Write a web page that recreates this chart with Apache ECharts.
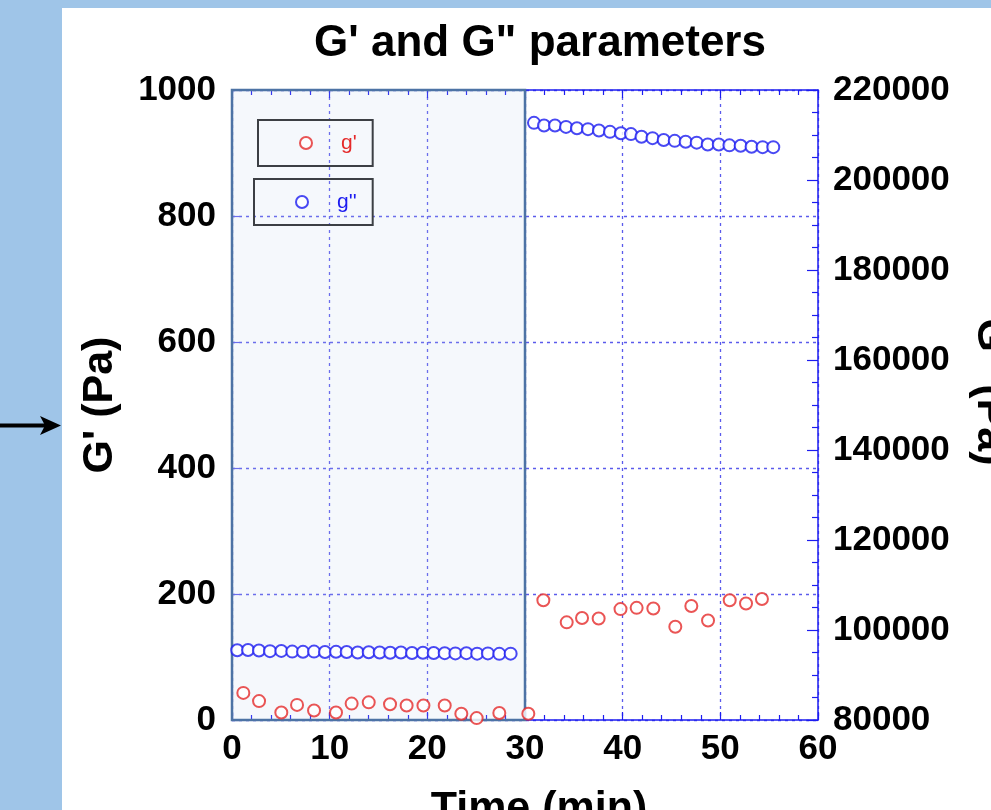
<!DOCTYPE html>
<html>
<head>
<meta charset="utf-8">
<script src="https://cdn.jsdelivr.net/npm/echarts@6/dist/echarts.min.js"></script>
<style>
html,body{margin:0;padding:0;background:#9fc5e8;}
#chart{width:991px;height:810px;}
</style>
</head>
<body>
<div id="chart"></div>
<script>
// G' (red, left axis)
var gPrimeTime = [1.16,2.77,5.05,6.66,8.4,10.65,12.25,14.0,16.18,17.88,19.6,21.78,23.48,25.05,27.37,30.34,31.88,34.27,35.84,37.54,39.78,41.43,43.14,45.39,47.03,48.74,50.96,52.63,54.26];
var gPrimeValues = [43,30,12,24,15,12,26,28,25,23,23,23,10,3,11,10,190,155,162,161,176,178,177,148,181,158,190,185,192];
// G'' (blue, right axis)
var gDoubleTime = [0.54,1.64,2.76,3.89,5.05,6.17,7.27,8.4,9.52,10.65,11.74,12.87,14.0,15.12,16.2,17.3,18.43,19.55,20.65,21.78,22.87,24.0,25.1,26.2,27.37,28.53,
  30.92,31.95,33.07,34.2,35.32,36.45,37.57,38.7,39.82,40.85,41.93,43.06,44.2,45.33,46.45,47.58,48.71,49.84,50.93,52.08,53.2,54.33,55.42];
var gDoubleValues = [95500,95550,95450,95300,95350,95200,95150,95200,95100,95150,95100,95000,95050,95000,94950,95000,94900,94950,94900,94850,94800,94850,94750,94800,94700,94750,
  212700,212100,212100,211800,211500,211300,211000,210700,210400,210200,209600,209300,208900,208700,208500,208300,207900,207900,207700,207600,207400,207300,207300];
var seriesNames = ["g'", "g''"];
var shadedRange = [0, 30];

var FONT = 'Liberation Sans';
var BLUE = '#1c1cf0';
var GRID_BLUE = '#5b5bec';
var RED = '#e52a2a';

function pairs(xs, ys){ return xs.map(function(x,i){ return [x, ys[i]]; }); }
function plain(v){ return String(v); }

var chart = echarts.init(document.getElementById('chart'), null, {renderer:'canvas'});
var tickLabel = {color:'#000', fontFamily:FONT, fontWeight:'bold', fontSize:35, formatter:plain};
var nameStyle = {color:'#000', fontFamily:FONT, fontWeight:'bold', fontSize:43};

chart.setOption({
  backgroundColor:'#9fc5e8',
  animation:false,
  graphic:[
    {type:'rect', z:-10, silent:true, shape:{x:62,y:8,width:929,height:802}, style:{fill:'#ffffff'}},
    {type:'line', z:-5, shape:{x1:0,y1:425.5,x2:48,y2:425.5}, style:{stroke:'#000',lineWidth:4}},
    {type:'polygon', z:-5, shape:{points:[[61,425.5],[40,416],[45,425.5],[40,435]]}, style:{fill:'#000'}}
  ],
  title:{
    text:'G\' and G" parameters',
    left:540, top:22, textAlign:'center', padding:0,
    textStyle:{color:'#000', fontFamily:FONT, fontWeight:'bold', fontSize:44}
  },
  legend:[
    {data:[seriesNames[0]], left:258, top:120, orient:'vertical', itemWidth:12, itemHeight:12,
     padding:[11,16,11,41], borderColor:'#3c3f44', borderWidth:2, backgroundColor:'rgba(255,255,255,0)',
     textStyle:{color:RED, fontFamily:FONT, fontSize:21, lineHeight:24, padding:[0,0,0,24]}},
    {data:[seriesNames[1]], left:254, top:179, orient:'vertical', itemWidth:12, itemHeight:12,
     padding:[11,16,11,41], borderColor:'#3c3f44', borderWidth:2, backgroundColor:'rgba(255,255,255,0)',
     textStyle:{color:BLUE, fontFamily:FONT, fontSize:21, lineHeight:24, padding:[0,0,0,24]}}
  ],
  grid:{left:232, right:173, top:90, bottom:90, containLabel:false, outerBoundsMode:'none'},
  xAxis:[
    {type:'value', position:'bottom', min:0, max:60, interval:10,
     name:'Time (min)', nameLocation:'middle', nameGap:68, nameTextStyle:Object.assign({padding:[0,0,0,28]}, nameStyle),
     axisLine:{onZero:false, lineStyle:{color:BLUE, width:1.5}},
     axisTick:{inside:true, length:8, lineStyle:{color:BLUE, width:1.2}},
     minorTick:{show:true, splitNumber:5, length:5, lineStyle:{color:BLUE, width:1.2}},
     axisLabel:Object.assign({margin:12, showMinLabel:true, showMaxLabel:true, hideOverlap:false}, tickLabel),
     splitLine:{show:true, lineStyle:{color:GRID_BLUE, type:[3,4], width:1.3}}},
    {type:'value', position:'top', min:0, max:60, interval:10,
     axisLine:{show:true, onZero:false, lineStyle:{color:BLUE, width:1.5}},
     axisTick:{show:true, inside:true, length:8, lineStyle:{color:BLUE, width:1.2}},
     minorTick:{show:true, splitNumber:5, length:5, lineStyle:{color:BLUE, width:1.2}},
     axisLabel:{show:false}, splitLine:{show:false}}
  ],
  yAxis:[
    {type:'value', position:'left', min:0, max:1000, interval:200,
     name:'G\' (Pa)', nameLocation:'middle', nameGap:110, nameRotate:90, nameTextStyle:nameStyle,
     axisLine:{show:true, onZero:false, lineStyle:{color:BLUE, width:1.5}},
     axisTick:{show:true, inside:true, length:7, lineStyle:{color:GRID_BLUE, width:1.2}},
     minorTick:{show:false},
     axisLabel:Object.assign({margin:16, padding:[0,0,6,0]}, tickLabel),
     splitLine:{show:true, lineStyle:{color:GRID_BLUE, type:[3,4], width:1.3}}},
    {type:'value', position:'right', min:80000, max:220000, interval:20000, alignTicks:false,
     name:'G\'\' (Pa)', nameLocation:'middle', nameGap:150, nameRotate:-90, nameTextStyle:Object.assign({padding:[0,26,0,0]}, nameStyle),
     axisLine:{show:true, onZero:false, lineStyle:{color:BLUE, width:1.5}},
     axisTick:{show:true, inside:true, length:11, lineStyle:{color:BLUE, width:1.2}},
     minorTick:{show:true, splitNumber:4, length:6, lineStyle:{color:BLUE, width:1.2}},
     axisLabel:Object.assign({margin:15, padding:[0,0,4,0]}, tickLabel),
     splitLine:{show:false}}
  ],
  series:[
    {name:seriesNames[0], type:'scatter', xAxisIndex:0, yAxisIndex:0, symbol:'emptyCircle', symbolSize:12,
     itemStyle:{color:RED, borderColor:RED, borderWidth:1.3},
     data:pairs(gPrimeTime, gPrimeValues),
     markArea:{silent:true,
       itemStyle:{color:'rgba(190,212,238,0.16)', borderColor:'#4d73a5', borderWidth:2.5},
       data:[[{xAxis:shadedRange[0]},{xAxis:shadedRange[1]}]]}},
    {name:seriesNames[1], type:'scatter', xAxisIndex:0, yAxisIndex:1, symbol:'emptyCircle', symbolSize:12,
     itemStyle:{color:BLUE, borderColor:BLUE, borderWidth:1.3},
     data:pairs(gDoubleTime, gDoubleValues)}
  ]
});
</script>
</body>
</html>
